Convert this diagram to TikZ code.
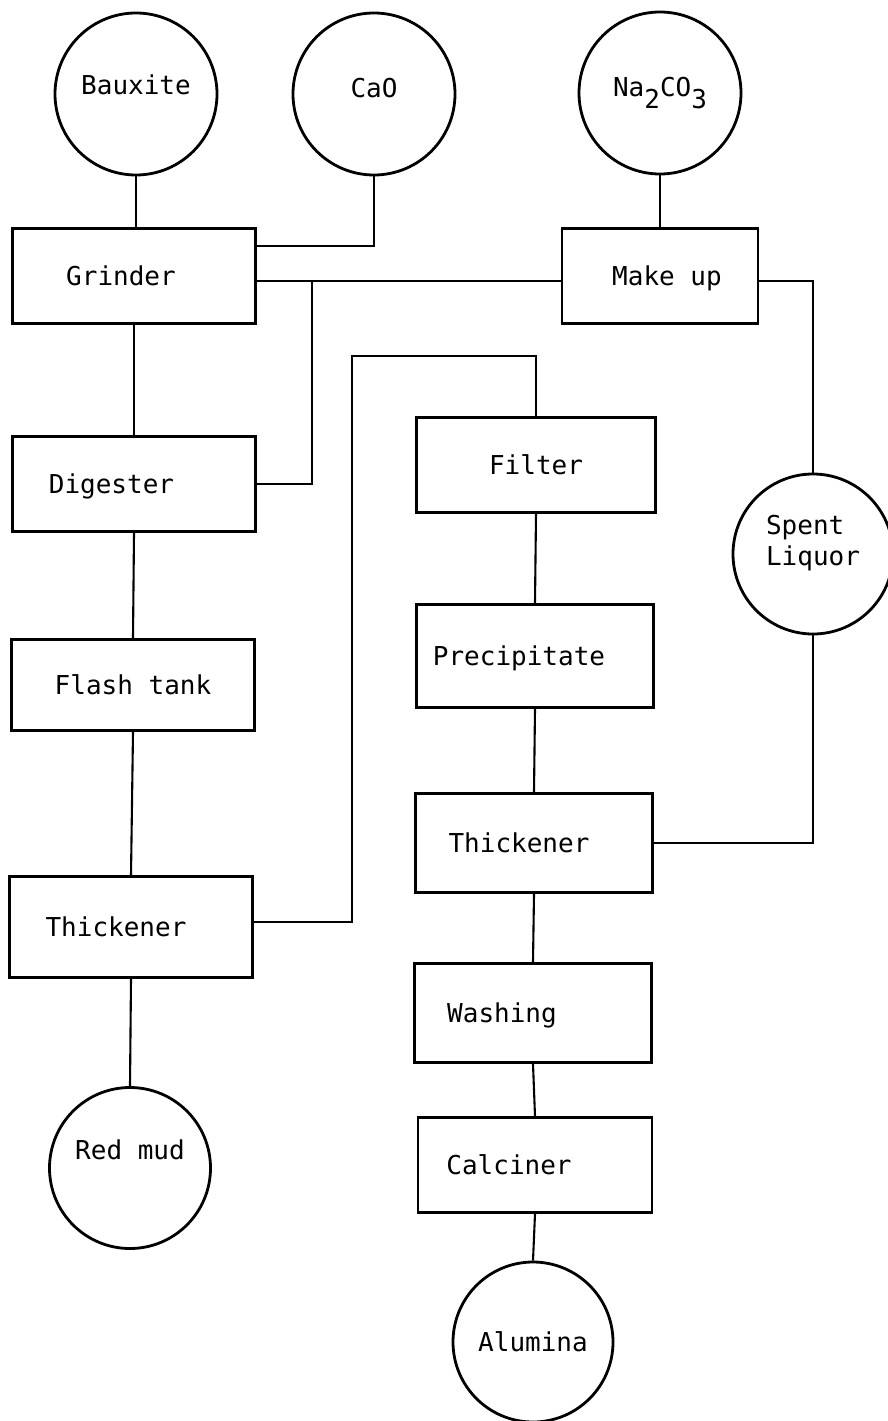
\documentclass[tikz,border=0pt]{standalone}
\usepackage{fontspec}
\newfontfamily\typer{DejaVu Sans Mono}
\usetikzlibrary{positioning}

\begin{document}
\begin{tikzpicture}[x=1pt,y=-1pt,font=\typer\fontsize{26}{31}\selectfont]
\tikzset{unit/.style = {shape=rectangle,draw,line width=2.8pt,minimum width=243pt,minimum height=95pt,text height=19pt,text depth=0pt}}
\tikzset{feed/.style = {shape=circle,draw,line width=2.8pt,minimum size=162pt}}
\tikzset{every path/.style = {line width=2.1pt}}
\useasboundingbox (0,0) rectangle (888,1421);
% vertices
\node[feed,text depth=18pt] (bauxite) at (136,94) {Bauxite};
\node[feed,text depth=12pt] (cao) at (374,94) {CaO};
\node[feed] (soda) at (660,93) {Na\raisebox{-12pt}{2}CO\raisebox{-12pt}{3}};
\node[feed,minimum size=160pt,align=left,text depth=28pt] (spent) at (813,554) {Spent\\Liquor};
\node[feed,minimum size=161pt,text depth=36pt] (redmud) at (130,1168) {Red mud};
\node[feed,minimum size=160pt] (alumina) at (533,1342) {Alumina};
\node[unit] (grinder) at (134,276) {Grinder\hspace*{26pt}};
\node[unit,minimum width=196pt] (makeup) at (660,276) {\hspace*{14pt}Make up};
\node[unit] (digester) at (134,484) {Digester\hspace*{45pt}};
\node[unit,minimum height=91pt] (flash) at (133,685) {Flash tank};
\node[unit,minimum height=101pt] (thickL) at (131,927) {Thickener\hspace*{30pt}};
\node[unit,minimum width=239pt] (filter) at (536,465) {Filter};
\node[unit,minimum width=237pt,minimum height=103pt] (precip) at (535,656) {Precipitate\hspace*{32pt}};
\node[unit,minimum width=237pt,minimum height=99pt] (thickR) at (534,843) {Thickener\hspace*{30pt}};
\node[unit,minimum width=237pt,minimum height=99pt] (washing) at (533,1013) {Washing\hspace*{62pt}};
\node[unit,minimum width=234pt] (calciner) at (535,1165) {Calciner\hspace*{52pt}};
\coordinate (split) at (312,281);
\coordinate (bend) at (352,356);
%edges
\draw (bauxite.south) -- (bauxite.south |- grinder.north);
\draw (cao.south) |- ([yshift=30pt]grinder.east);
\draw ([yshift=-5pt]grinder.east) -- ([yshift=-5pt]grinder.east -| makeup.west);
\draw (split) |- (digester.east);
\draw (soda.south) -- (makeup.north);
\draw ([yshift=-5pt]makeup.east) -| (spent.north);
\draw (grinder.south) -- (digester.north);
\draw (digester.south) -- (flash.north);
\draw (flash.south) -- (thickL.north);
\draw (thickL.south) -- (redmud.north);
\draw ([yshift=5pt]thickL.east) -| (bend) -| (filter.north);
\draw (filter.south) -- (precip.north);
\draw (precip.south) -- (thickR.north);
\draw (thickR.south) -- (washing.north);
\draw (washing.south) -- (calciner.north);
\draw (calciner.south) -- (alumina.north);
\draw (thickR.east) -| (spent.south);
\end{tikzpicture}
\end{document}
